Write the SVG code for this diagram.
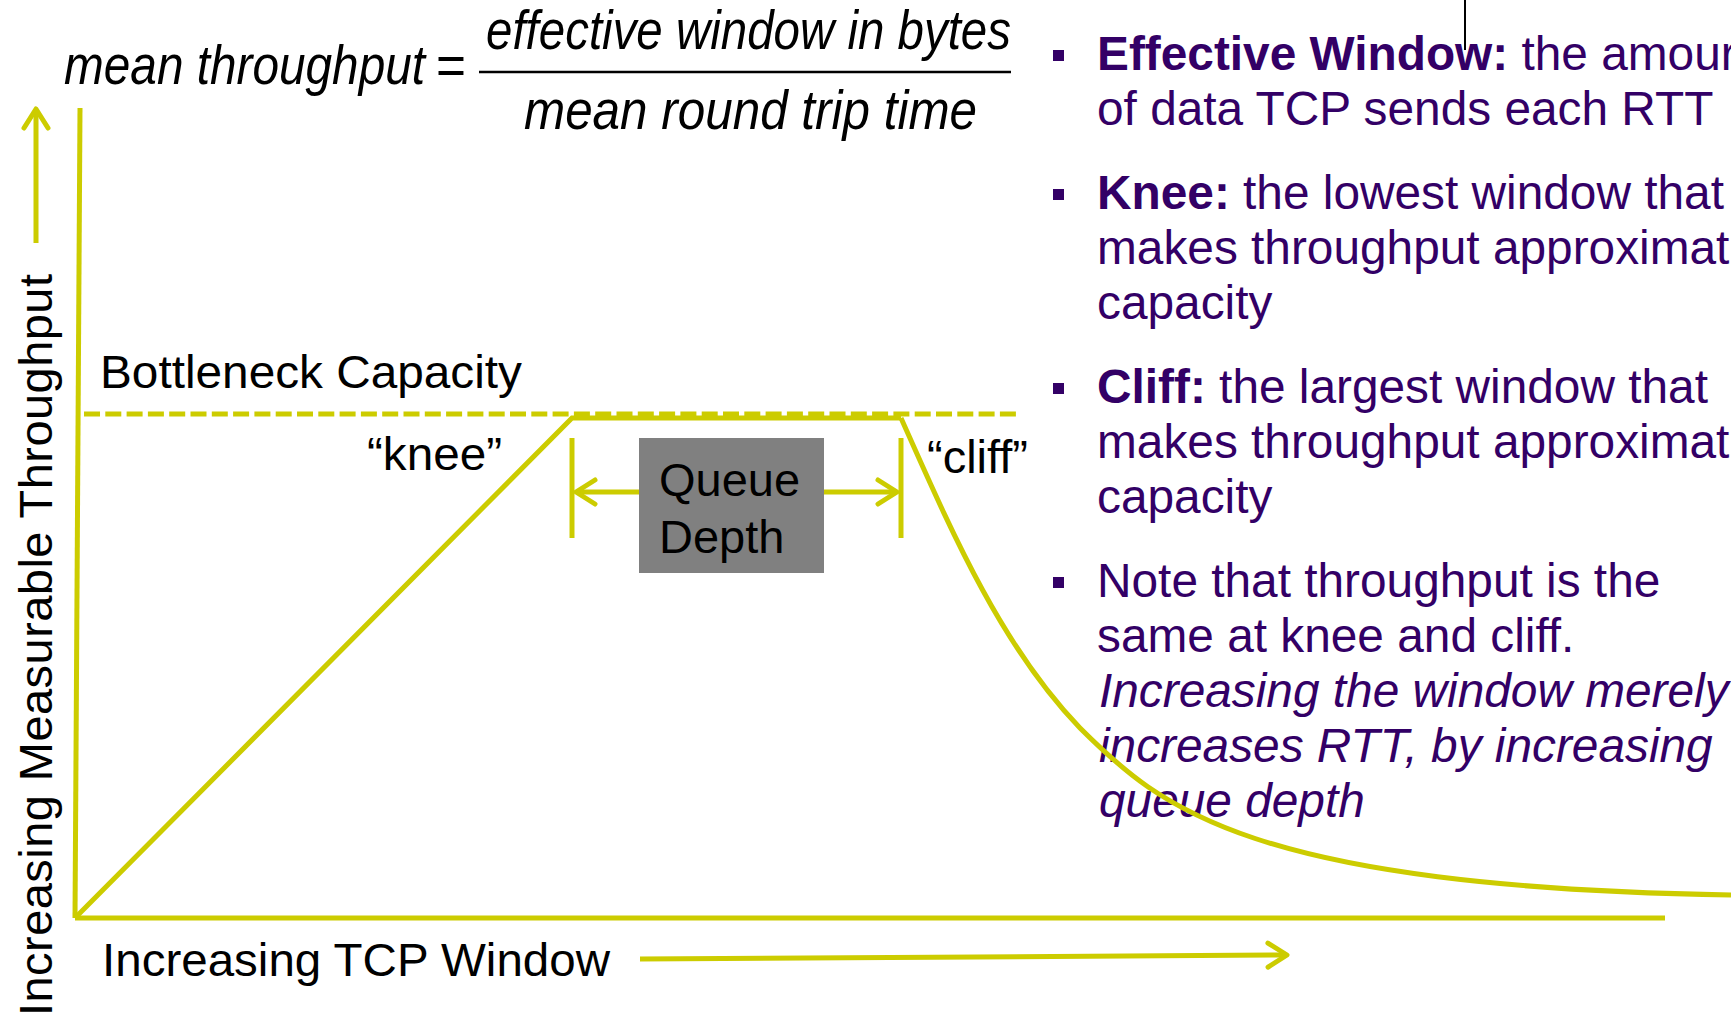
<svg xmlns="http://www.w3.org/2000/svg" width="1731" height="1012" viewBox="0 0 1731 1012">
<defs>
<style>
.ln{fill:none;stroke:#CCCC00;stroke-width:5;}
.lbl{font-family:"Liberation Sans",Arial,sans-serif;font-size:47px;fill:#000000;}
.eq{font-family:"Liberation Sans",Arial,sans-serif;font-size:55px;font-style:italic;fill:#000000;}
.bt{font-family:"Liberation Sans",Arial,sans-serif;font-size:47.8px;fill:#330066;}
.b{font-weight:bold;}
.i{font-style:italic;}
.sq{fill:#330066;}
</style>
<marker id="chev" markerUnits="userSpaceOnUse" markerWidth="26" markerHeight="30" viewBox="0 0 26 30" refX="22" refY="15" orient="auto">
<path d="M3,3 L22,15 L3,27" fill="none" stroke="#CCCC00" stroke-width="5" stroke-linecap="round" stroke-linejoin="round"/>
</marker>
</defs>
<rect width="1731" height="1012" fill="#FFFFFF"/>

<g id="formula">
<text class="eq" x="64" y="84"><tspan textLength="361" lengthAdjust="spacingAndGlyphs">mean throughput</tspan><tspan x="436" font-style="normal" textLength="30" lengthAdjust="spacingAndGlyphs">=</tspan></text>
<line x1="479" y1="72" x2="1011" y2="72" stroke="#000000" stroke-width="2.5"/>
<text class="eq" x="486" y="49" textLength="525" lengthAdjust="spacingAndGlyphs">effective window in bytes</text>
<text class="eq" x="524" y="129" textLength="453" lengthAdjust="spacingAndGlyphs">mean round trip time</text>
</g>

<g id="marker-line">
<line x1="1465" y1="0" x2="1465" y2="50" stroke="#000000" stroke-width="2"/>
</g>

<g id="y-axis-label">
<text class="lbl" transform="translate(52,1016) rotate(-90)" textLength="742" lengthAdjust="spacing">Increasing Measurable Throughput</text>
</g>

<g id="x-axis-label">
<text class="lbl" x="102" y="976" textLength="508" lengthAdjust="spacingAndGlyphs">Increasing TCP Window</text>
</g>

<g id="bottleneck-label">
<text class="lbl" x="100" y="388" textLength="422" lengthAdjust="spacingAndGlyphs">Bottleneck Capacity</text>
</g>

<g id="knee-label">
<text class="lbl" x="367" y="470" textLength="135" lengthAdjust="spacingAndGlyphs">“knee”</text>
</g>

<g id="cliff-label">
<text class="lbl" x="927" y="473" textLength="101" lengthAdjust="spacingAndGlyphs">“cliff”</text>
</g>

<g id="queue-depth">
<rect x="639" y="438" width="185" height="135" fill="#808080"/>
<text class="lbl" x="659" y="496">Queue</text>
<text class="lbl" x="659" y="553">Depth</text>
</g>

<g id="bullets">
<rect class="sq" x="1053" y="50" width="11" height="11"/>
<text class="bt" x="1097" y="70"><tspan class="b">Effective Window:</tspan> the amour</text>
<text class="bt" x="1097" y="125">of data TCP sends each RTT</text>
<rect class="sq" x="1053" y="189" width="11" height="11"/>
<text class="bt" x="1097" y="209"><tspan class="b">Knee:</tspan> the lowest window that</text>
<text class="bt" x="1097" y="264">makes throughput approximat</text>
<text class="bt" x="1097" y="319">capacity</text>
<rect class="sq" x="1053" y="383" width="11" height="11"/>
<text class="bt" x="1097" y="403"><tspan class="b">Cliff:</tspan> the largest window that</text>
<text class="bt" x="1097" y="458">makes throughput approximat</text>
<text class="bt" x="1097" y="513">capacity</text>
<rect class="sq" x="1053" y="577" width="11" height="11"/>
<text class="bt" x="1097" y="597">Note that throughput is the</text>
<text class="bt" x="1097" y="652">same at knee and cliff.</text>
<text class="bt i" x="1099" y="707">Increasing the window merely</text>
<text class="bt i" x="1099" y="762">increases RTT, by increasing</text>
<text class="bt i" x="1099" y="817">queue depth</text>
</g>

<g id="connectors">
<line class="ln" x1="80" y1="108" x2="75" y2="918"/>
<line class="ln" x1="75" y1="918" x2="1665" y2="918" stroke-width="7"/>
<line class="ln" x1="36" y1="243" x2="36" y2="109" marker-end="url(#chev)"/>
<line class="ln" x1="640" y1="959" x2="1287" y2="955" marker-end="url(#chev)"/>
<line class="ln" x1="84" y1="414" x2="1018" y2="414" stroke-dasharray="16 5.3"/>
<polyline class="ln" points="75,918 572,418 901,418"/>
<path class="ln" d="M901,418 C950,528 1000,645 1080,728 C1160,808 1250,887 1731,895"/>
<line class="ln" x1="572" y1="438" x2="572" y2="538"/>
<line class="ln" x1="901" y1="438" x2="901" y2="538"/>
<line class="ln" x1="639" y1="492" x2="576" y2="492" marker-end="url(#chev)"/>
<line class="ln" x1="824" y1="492" x2="897" y2="492" marker-end="url(#chev)"/>
</g>
</svg>
